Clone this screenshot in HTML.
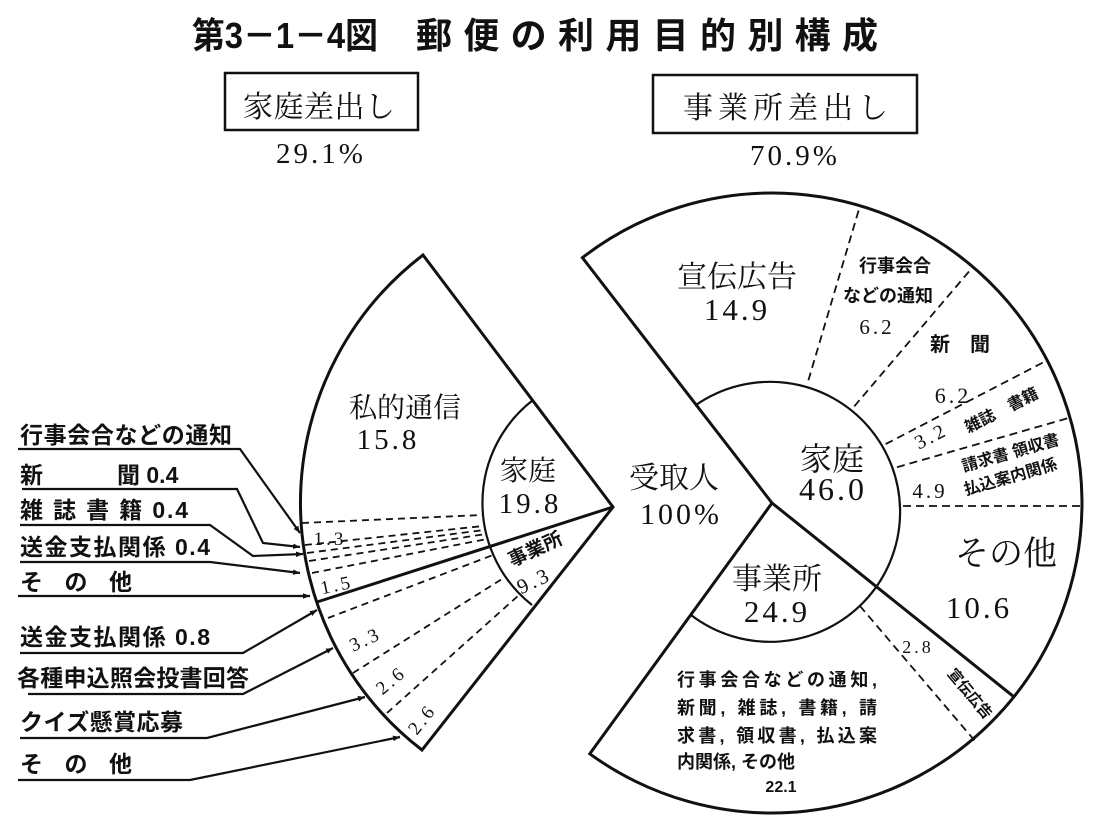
<!DOCTYPE html>
<html><head><meta charset="utf-8">
<style>
html,body{margin:0;padding:0;background:#fff;}
svg{display:block;}
.s{font-family:"Liberation Serif","Noto Serif CJK JP","Noto Serif CJK SC",serif;fill:#111;}
.n{font-family:"Liberation Serif",serif;fill:#111;letter-spacing:3px;}
.b{font-family:"Liberation Sans","Noto Sans CJK JP",sans-serif;font-weight:bold;fill:#111;}
</style></head>
<body>
<svg width="1105" height="829" viewBox="0 0 1105 829" xmlns="http://www.w3.org/2000/svg">
<defs>
<marker id="ar" viewBox="0 0 10 10" refX="10" refY="5" markerWidth="7" markerHeight="7" orient="auto" markerUnits="userSpaceOnUse">
<path d="M0,1 L10,5 L0,9 z" fill="#111"/>
</marker>
</defs>

<text class="b" x="192" y="48" font-size="36" textLength="186" lengthAdjust="spacingAndGlyphs">第3－1－4図</text>
<text class="b" x="416" y="48" font-size="36" textLength="462" lengthAdjust="spacing">郵便の利用目的別構成</text>

<rect x="225" y="73" width="193" height="57" fill="none" stroke="#111" stroke-width="2.5"/>
<text class="s" x="243" y="117" font-size="30" textLength="152">家庭差出し</text>
<text class="n" x="321" y="163" font-size="29" text-anchor="middle">29.1%</text>
<rect x="653" y="75" width="264" height="58" fill="none" stroke="#111" stroke-width="2.5"/>
<text class="s" x="683" y="118" font-size="30" textLength="205" lengthAdjust="spacing">事業所差出し</text>
<text class="n" x="795" y="165" font-size="29" text-anchor="middle">70.9%</text>

<g fill="none" stroke="#111">
<path d="M613,507 L423,255 A312,312 0 0 0 422,750 Z" stroke-width="3"/>
<path d="M533,400 A130,130 0 0 0 532,605" stroke-width="2.2"/>
<line x1="613" y1="507" x2="317" y2="602" stroke-width="3"/>
<g stroke-width="1.8" stroke-dasharray="7,5">
<line x1="302" y1="523" x2="482" y2="515"/>
<line x1="305" y1="545" x2="483" y2="526"/>
<line x1="307" y1="553" x2="484" y2="530"/>
<line x1="309" y1="561" x2="486" y2="534"/>
<line x1="312" y1="573" x2="487" y2="539"/>
<line x1="328" y1="618" x2="493" y2="555"/>
<line x1="353" y1="673" x2="502" y2="579"/>
<line x1="387" y1="713" x2="519" y2="595"/>
</g>

<path d="M772,503 L582.4,257.7 A310,310 0 1 1 589.8,753.8 Z" stroke-width="3"/>
<path d="M696,405 A130,130 0 1 1 691,615" stroke-width="2.2"/>
<line x1="772" y1="503" x2="1013.9" y2="696.8" stroke-width="3"/>
<g stroke-width="1.8" stroke-dasharray="8,5">
<line x1="808.4" y1="380.3" x2="860" y2="205.8"/>
<line x1="854.3" y1="406.3" x2="972.9" y2="266.9"/>
<line x1="885.6" y1="444.1" x2="1047.2" y2="360.3"/>
<line x1="897" y1="467.2" x2="1070" y2="417.6"/>
<line x1="903" y1="506" x2="1082" y2="506"/>
<line x1="859.7" y1="605.7" x2="975" y2="741"/>
</g>

<g stroke-width="2.2">
<polyline points="18,449 240,449 300,533" marker-end="url(#ar)"/>
<polyline points="22,489 237,489 263,543 300,547" marker-end="url(#ar)"/>
<polyline points="20,525 210,525 253,556 303,554" marker-end="url(#ar)"/>
<polyline points="20,562 210,562 300,573" marker-end="url(#ar)"/>
<polyline points="18,596 310,596" marker-end="url(#ar)"/>
<polyline points="20,653 243,653 317,610" marker-end="url(#ar)"/>
<polyline points="28,694 243,694 333,648" marker-end="url(#ar)"/>
<polyline points="20,738 207,738 365,697" marker-end="url(#ar)"/>
<polyline points="18,780 190,780 400,737" marker-end="url(#ar)"/>
</g>
</g>

<text class="b" x="20" y="443" font-size="23" textLength="212">行事会合などの通知</text>
<text class="b" x="20" y="483" font-size="23">新</text>
<text class="b" x="117" y="483" font-size="23">聞 0.4</text>
<text class="b" x="20" y="518" font-size="23" textLength="168" lengthAdjust="spacing">雑 誌 書 籍 0.4</text>
<text class="b" x="20" y="555" font-size="23" textLength="190" lengthAdjust="spacing">送金支払関係 0.4</text>
<text class="b" x="20" y="590" font-size="23" textLength="112" lengthAdjust="spacing">そ の 他</text>
<text class="b" x="20" y="645" font-size="23" textLength="190" lengthAdjust="spacing">送金支払関係 0.8</text>
<text class="b" x="17" y="686" font-size="23" textLength="232" lengthAdjust="spacing">各種申込照会投書回答</text>
<text class="b" x="20" y="730" font-size="23" textLength="163" lengthAdjust="spacing">クイズ懸賞応募</text>
<text class="b" x="20" y="772" font-size="23" textLength="112" lengthAdjust="spacing">そ の 他</text>

<text class="s" x="405" y="417" font-size="28" text-anchor="middle">私的通信</text>
<text class="n" x="388" y="449" font-size="29" text-anchor="middle">15.8</text>
<text class="s" x="528" y="480" font-size="28" text-anchor="middle">家庭</text>
<text class="n" x="530" y="513" font-size="29" text-anchor="middle">19.8</text>
<text class="b" x="0" y="0" font-size="19" text-anchor="middle" transform="translate(538,555) rotate(-25)">事業所</text>
<text class="n" x="0" y="0" font-size="21" text-anchor="middle" transform="translate(537,587) rotate(-25)">9.3</text>
<text class="n" x="330" y="545" font-size="19" text-anchor="middle">1.3</text>
<text class="n" x="0" y="0" font-size="19" text-anchor="middle" transform="translate(338,591) rotate(-12)">1.5</text>
<text class="n" x="0" y="0" font-size="19" text-anchor="middle" transform="translate(368,645) rotate(-25)">3.3</text>
<text class="n" x="0" y="0" font-size="19" text-anchor="middle" transform="translate(395,685) rotate(-40)">2.6</text>
<text class="n" x="0" y="0" font-size="19" text-anchor="middle" transform="translate(427,723) rotate(-52)">2.6</text>

<text class="s" x="737" y="287" font-size="30" text-anchor="middle">宣伝広告</text>
<text class="n" x="737" y="320" font-size="31" text-anchor="middle">14.9</text>
<text class="b" x="895" y="272" font-size="18" text-anchor="middle">行事会合</text>
<text class="b" x="888" y="302" font-size="18" text-anchor="middle">などの通知</text>
<text class="n" x="877" y="334" font-size="21" text-anchor="middle">6.2</text>
<text class="b" x="960" y="351" font-size="20" text-anchor="middle">新　聞</text>
<text class="n" x="953" y="403" font-size="22" text-anchor="middle">6.2</text>
<text class="n" x="0" y="0" font-size="20" text-anchor="middle" transform="translate(934,442) rotate(-27)">3.2</text>
<text class="b" x="0" y="0" font-size="16" text-anchor="middle" transform="translate(1004,415) rotate(-27)">雑誌　書籍</text>
<text class="b" x="0" y="0" font-size="16" text-anchor="middle" transform="translate(1012,458) rotate(-16)">請求書 領収書</text>
<text class="n" x="930" y="498" font-size="21" text-anchor="middle">4.9</text>
<text class="b" x="0" y="0" font-size="16" text-anchor="middle" transform="translate(1012,482) rotate(-16)">払込案内関係</text>
<text class="s" x="1006" y="565" font-size="34" text-anchor="middle">その他</text>
<text class="n" x="979" y="618" font-size="31" text-anchor="middle">10.6</text>
<text class="s" x="674" y="488" font-size="30" text-anchor="middle">受取人</text>
<text class="n" x="681" y="524" font-size="30" text-anchor="middle">100%</text>
<text class="s" x="832" y="470" font-size="32" text-anchor="middle">家庭</text>
<text class="n" x="833" y="500" font-size="32" text-anchor="middle">46.0</text>
<text class="s" x="777" y="589" font-size="30" text-anchor="middle">事業所</text>
<text class="n" x="777" y="622" font-size="31" text-anchor="middle">24.9</text>
<text class="b" x="677" y="686" font-size="18" textLength="200" lengthAdjust="spacing">行事会合などの通知,</text>
<text class="b" x="677" y="714" font-size="18" textLength="200" lengthAdjust="spacing">新聞, 雑誌, 書籍, 請</text>
<text class="b" x="677" y="742" font-size="18" textLength="200" lengthAdjust="spacing">求書, 領収書, 払込案</text>
<text class="b" x="677" y="768" font-size="18">内関係, その他</text>
<text class="b" x="781" y="792" font-size="16" text-anchor="middle">22.1</text>
<text class="n" x="918" y="653" font-size="18" text-anchor="middle">2.8</text>
<text class="b" x="0" y="0" font-size="15" text-anchor="middle" transform="translate(966,697) rotate(50)">宣伝広告</text>
</svg>
</body></html>
